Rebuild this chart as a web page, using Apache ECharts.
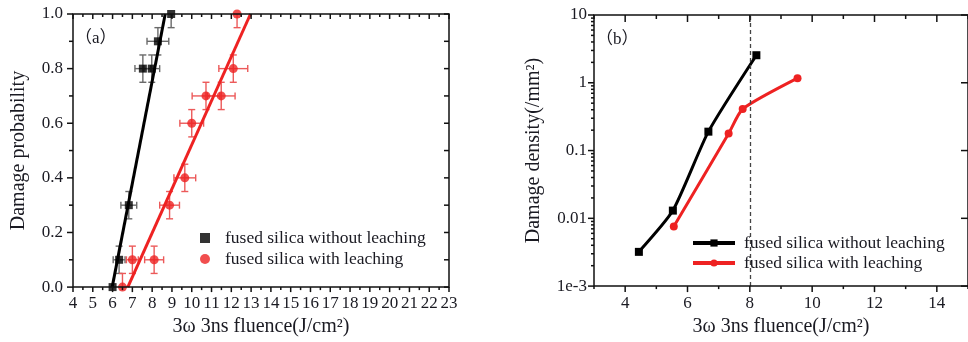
<!DOCTYPE html>
<html>
<head>
<meta charset="utf-8">
<script src="https://cdn.jsdelivr.net/npm/echarts@6/dist/echarts.min.js"></script>
<style>
  html, body { margin:0; padding:0; background:#fff; }
  #chart { width:968px; height:342px; }
</style>
</head>
<body>
<div id="chart"></div>
<script>
// ---------- data ----------
const NAME_A = 'fused silica without leaching';
const NAME_B = 'fused silica with leaching';

// (a) damage probability: [fluence, probability, x error, y error]
const probWithout = [
  [6.0, 0.0, 0.0, 0.0],
  [6.33, 0.1, 0.3, 0.05],
  [6.82, 0.3, 0.4, 0.05],
  [7.53, 0.8, 0.4, 0.05],
  [7.98, 0.8, 0.4, 0.05],
  [8.29, 0.9, 0.55, 0.05],
  [8.96, 1.0, 0.0, 0.05]
];
const probWith = [
  [6.5, 0.0, 0.0, 0.05],
  [7.0, 0.1, 0.3, 0.05],
  [8.1, 0.1, 0.48, 0.05],
  [8.88, 0.3, 0.5, 0.05],
  [9.65, 0.4, 0.55, 0.05],
  [10.0, 0.6, 0.6, 0.05],
  [10.72, 0.7, 0.7, 0.05],
  [11.49, 0.7, 0.7, 0.05],
  [12.1, 0.8, 0.73, 0.05],
  [12.29, 1.0, 0.0, 0.05]
];
// linear fit end points
const fitWithout = [[5.98, 0.0], [8.66, 1.0]];
const fitWith = [[6.77, 0.0], [12.97, 1.0]];

// (b) damage density (/mm2)
const densWithout = [[4.44, 0.0032], [5.53, 0.013], [6.67, 0.19], [8.21, 2.55]];
const densWith = [[5.56, 0.0076], [7.32, 0.178], [7.77, 0.41], [9.53, 1.17]];
const dashedAt = 8;

// tick values
const ticksAx = [4,5,6,7,8,9,10,11,12,13,14,15,16,17,18,19,20,21,22,23];
const ticksAxMinor = ticksAx.slice(0, -1).map(v => v + 0.5);
const ticksAy = [0, 0.2, 0.4, 0.6, 0.8, 1.0];
const ticksAyMinor = [0.1, 0.3, 0.5, 0.7, 0.9];
const ticksBx = [4, 6, 8, 10, 12, 14];
const ticksBxMinor = [3, 5, 7, 9, 11, 13, 15];
const ticksBy = [0.001, 0.01, 0.1, 1, 10];
const logLabels = { '10': '10', '1': '1', '0.1': '0.1', '0.01': '0.01', '0.001': '1e-3' };
const ticksByMinor = [];
for (let k = -3; k < 1; k++) for (let m = 2; m <= 9; m++) ticksByMinor.push(+(m * Math.pow(10, k)).toPrecision(3));

// axis extents [xmin, xmax, ymin, ymax]
const extA = [4, 23, 0, 1];
const extB = [3, 15, 0.001, 10];

// ---------- styles ----------
const FONT = 'Liberation Serif';
const INK = '#1a1a22';
const RED = '#ee2222';
const labelStyle = () => ({ fontFamily: FONT, fontSize: 17, color: INK });
const nameStyle = () => ({ fontFamily: FONT, fontSize: 20, color: INK });
const off = () => ({ show: false });

function errorBars(data, color, xi, yi) {
  return {
    type: 'custom', xAxisIndex: xi, yAxisIndex: yi, silent: true, z: 2, clip: true,
    data: data,
    renderItem(params, api) {
      const x = api.value(0), y = api.value(1), ex = api.value(2), ey = api.value(3);
      const kids = [];
      const st = { stroke: color, lineWidth: 1.4 };
      const cap = 3.5;
      if (ey > 0) {
        const t = api.coord([x, y + ey]), b = api.coord([x, y - ey]);
        kids.push({ type: 'line', shape: { x1: t[0], y1: t[1], x2: b[0], y2: b[1] }, style: st });
        kids.push({ type: 'line', shape: { x1: t[0] - cap, y1: t[1], x2: t[0] + cap, y2: t[1] }, style: st });
        kids.push({ type: 'line', shape: { x1: b[0] - cap, y1: b[1], x2: b[0] + cap, y2: b[1] }, style: st });
      }
      if (ex > 0) {
        const l = api.coord([x - ex, y]), r = api.coord([x + ex, y]);
        kids.push({ type: 'line', shape: { x1: l[0], y1: l[1], x2: r[0], y2: r[1] }, style: st });
        kids.push({ type: 'line', shape: { x1: l[0], y1: l[1] - cap, x2: l[0], y2: l[1] + cap }, style: st });
        kids.push({ type: 'line', shape: { x1: r[0], y1: r[1] - cap, x2: r[0], y2: r[1] + cap }, style: st });
      }
      return { type: 'group', children: kids };
    }
  };
}

const chart = echarts.init(document.getElementById('chart'), null, { renderer: 'canvas' });

const labelsGraphic = [
  { id: 'ta', type: 'text', left: 75, top: 30, z: 50, style: { text: '（a）', font: '17px "Liberation Serif", "Noto Sans CJK SC"', fill: INK } },
  { id: 'tb', type: 'text', left: 596, top: 31, z: 50, style: { text: '（b）', font: '17px "Liberation Serif", "Noto Sans CJK SC"', fill: INK } }
];

chart.setOption({
  animation: false,
  backgroundColor: '#fff',
  grid: [
    { left: 73, top: 14, width: 376, height: 274 },
    { left: 594, top: 15, right: -6, bottom: 50 }
  ],
  xAxis: [
    {
      type: 'value', gridIndex: 0, min: extA[0], max: extA[1], interval: 1,
      name: '3ω 3ns fluence(J/cm²)', nameLocation: 'middle', nameGap: 27, nameTextStyle: nameStyle(),
      axisLine: off(), axisTick: off(),
      axisLabel: { ...labelStyle(), margin: 8 }, splitLine: off()
    },
    {
      type: 'value', gridIndex: 1, min: extB[0], max: extB[1], interval: 1,
      name: '3ω 3ns fluence(J/cm²)', nameLocation: 'middle', nameGap: 30, nameTextStyle: nameStyle(),
      axisLine: off(), axisTick: off(),
      axisLabel: { ...labelStyle(), margin: 9, customValues: ticksBx },
      splitLine: off()
    }
  ],
  yAxis: [
    {
      type: 'value', gridIndex: 0, min: extA[2], max: extA[3], interval: 0.2,
      name: 'Damage probability', nameLocation: 'middle', nameGap: 44, nameTextStyle: nameStyle(),
      axisLine: off(), axisTick: off(),
      axisLabel: { ...labelStyle(), margin: 10, formatter: v => v.toFixed(1) },
      splitLine: off()
    },
    {
      type: 'log', logBase: 10, gridIndex: 1, min: extB[2], max: extB[3],
      name: 'Damage density(/mm²)', nameLocation: 'middle', nameGap: 50, nameTextStyle: nameStyle(),
      axisLine: off(), axisTick: off(),
      axisLabel: { ...labelStyle(), margin: 7, formatter: v => logLabels[String(+v.toPrecision(3))] ?? '' },
      splitLine: off()
    }
  ],
  legend: [
    {
      left: 195, top: 224, orient: 'vertical', itemGap: 3, itemWidth: 10, itemHeight: 10,
      data: [NAME_A, NAME_B], selectedMode: false,
      textStyle: { fontFamily: FONT, fontSize: 17.5, color: INK, padding: [0, 0, 0, 10] }
    },
    {
      left: 686, top: 229, orient: 'vertical', itemGap: 2, itemWidth: 42, itemHeight: 9,
      data: [NAME_A + ' ', NAME_B + ' '], selectedMode: false,
      lineStyle: { width: 4 },
      textStyle: { fontFamily: FONT, fontSize: 17.5, color: INK, padding: [0, 0, 0, 4] }
    }
  ],
  graphic: labelsGraphic,
  series: [
    errorBars(probWithout, '#6a6a6a', 0, 0),
    errorBars(probWith, '#ec5a5a', 0, 0),
    {
      name: NAME_A, type: 'scatter', xAxisIndex: 0, yAxisIndex: 0, z: 3,
      symbol: 'rect', symbolSize: 8, itemStyle: { color: '#000' },
      data: probWithout.map(d => [d[0], d[1]])
    },
    {
      name: NAME_B, type: 'scatter', xAxisIndex: 0, yAxisIndex: 0, z: 3,
      symbol: 'circle', symbolSize: 9, itemStyle: { color: RED },
      data: probWith.map(d => [d[0], d[1]])
    },
    {
      type: 'line', xAxisIndex: 0, yAxisIndex: 0, z: 4, showSymbol: false, silent: true,
      lineStyle: { color: '#000', width: 3 }, data: fitWithout
    },
    {
      type: 'line', xAxisIndex: 0, yAxisIndex: 0, z: 4, showSymbol: false, silent: true,
      lineStyle: { color: RED, width: 3 }, data: fitWith
    },
    {
      name: NAME_A + ' ', type: 'line', xAxisIndex: 1, yAxisIndex: 1, smooth: 0.2, z: 4,
      symbol: 'rect', symbolSize: 8, itemStyle: { color: '#000' },
      lineStyle: { color: '#000', width: 3 }, data: densWithout,
      markLine: {
        silent: true, symbol: 'none', label: { show: false },
        lineStyle: { color: '#444', type: [4, 3], width: 1.3 },
        data: [{ xAxis: dashedAt }]
      }
    },
    {
      name: NAME_B + ' ', type: 'line', xAxisIndex: 1, yAxisIndex: 1, smooth: 0.2, z: 4,
      symbol: 'circle', symbolSize: 8, itemStyle: { color: RED },
      lineStyle: { color: RED, width: 3 }, data: densWith
    }
  ]
});

// ---------- frame + ticks as an overlay, placed through the axes ----------
function frameOverlay(g, ext, sides, tag) {
  const px = (x, y) => chart.convertToPixel({ gridIndex: g }, [x, y]);
  const st = { stroke: '#111', lineWidth: 1.5 };
  const els = [];
  const tl = px(ext[0], ext[3]), br = px(ext[1], ext[2]);
  els.push({ id: tag + 'box', type: 'rect', z: 100, silent: true,
    shape: { x: tl[0], y: tl[1], width: br[0] - tl[0], height: br[1] - tl[1] },
    style: { fill: 'none', stroke: '#111', lineWidth: 1.5 } });
  sides.forEach(([values, dim, at, dx, dy], si) => {
    values.forEach((v, i) => {
      const p = dim === 'x' ? px(v, at) : px(at, v);
      els.push({ id: tag + si + '_' + i, type: 'line', z: 100, silent: true,
        shape: { x1: p[0], y1: p[1], x2: p[0] + dx, y2: p[1] + dy }, style: st });
    });
  });
  return els;
}

const overlay = [].concat(
  frameOverlay(0, extA, [
    [ticksAx, 'x', extA[2], 0, 5], [ticksAxMinor, 'x', extA[2], 0, 3],
    [ticksAx, 'x', extA[3], 0, 5], [ticksAxMinor, 'x', extA[3], 0, 3],
    [ticksAy, 'y', extA[0], -6, 0], [ticksAyMinor, 'y', extA[0], -4, 0],
    [ticksAy.concat(ticksAyMinor), 'y', extA[1], -5, 0]
  ], 'a'),
  frameOverlay(1, extB, [
    [ticksBx, 'x', extB[2], 0, 6], [ticksBxMinor, 'x', extB[2], 0, 3],
    [ticksBx, 'x', extB[3], 0, 7], [ticksBxMinor, 'x', extB[3], 0, 4],
    [ticksBy, 'y', extB[0], -6, 0], [ticksByMinor, 'y', extB[0], -3, 0],
    [ticksBy, 'y', extB[1], -7, 0]
  ], 'b')
);

chart.setOption({ graphic: labelsGraphic.concat(overlay) });
</script>
</body>
</html>
